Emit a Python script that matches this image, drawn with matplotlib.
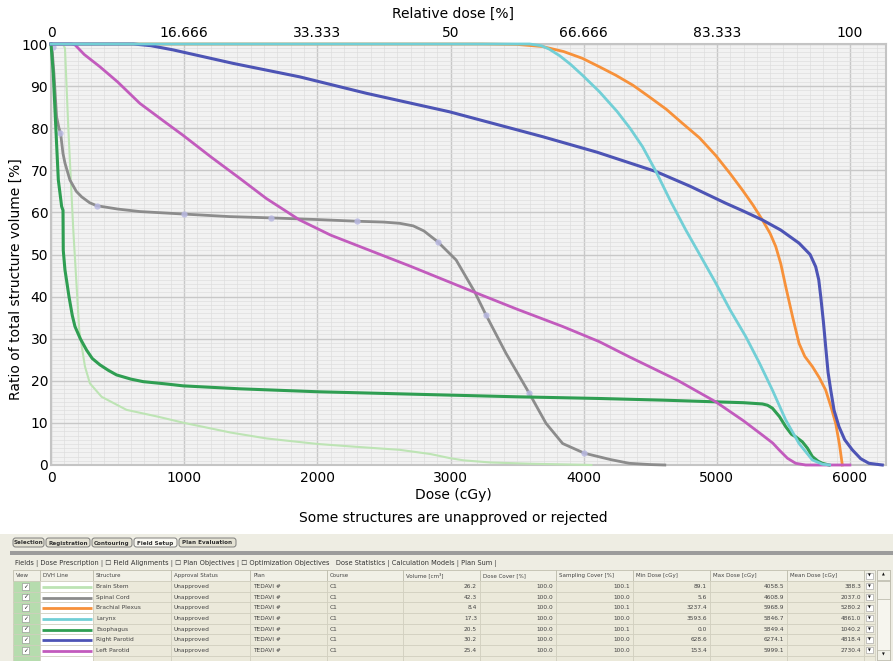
import numpy as np
import matplotlib
matplotlib.use("Agg")
import matplotlib.pyplot as plt
from matplotlib.patches import Rectangle, FancyBboxPatch
from matplotlib.ticker import MultipleLocator

plt.rcParams['font.family'] = ['DejaVu Sans']

# =========================
# DVH curves (dose cGy, volume %)
# =========================
brain_stem_dose = [0, 89, 105, 130, 167, 212, 255, 292, 380, 567, 800, 1000, 1350, 1620,
                   2000, 2300, 2620, 2850, 3000, 3100, 3300, 3600, 4000, 4058]
brain_stem_vol = [100, 100, 99, 80, 56, 32, 23.4, 19.4, 16.2, 13.1, 11.5, 10, 7.7, 6.3,
                  5.0, 4.3, 3.6, 2.6, 1.6, 1.1, 0.6, 0.3, 0.05, 0]

spinal_cord_dose = [0, 10, 22, 42, 60, 72, 90, 105, 142, 190, 230, 290, 342, 500, 667, 1000,
                    1342, 1650, 2000, 2300, 2500, 2620, 2720, 2800, 2905, 3042, 3180, 3267,
                    3417, 3592, 3717, 3842, 4005, 4200, 4342, 4500, 4609]
spinal_cord_vol = [100, 98, 93, 82.7, 80, 78.8, 74, 71.7, 67.7, 65, 63.7, 62.3, 61.6, 60.8,
                   60.2, 59.6, 59.0, 58.7, 58.3, 57.9, 57.7, 57.4, 56.8, 55.6, 53.0, 48.7,
                   41.2, 35.6, 26.5, 17.0, 9.9, 5.1, 2.8, 1.3, 0.4, 0.1, 0]
spinal_mark_dose = [15, 67, 342, 1000, 1650, 2300, 2905, 3267, 3592, 4005]
spinal_mark_vol = [99.4, 78.8, 61.6, 59.6, 58.7, 57.9, 53.0, 35.6, 17.0, 2.8]

plexus_dose = [0, 3237, 3500, 3690, 3850, 3990, 4117, 4240, 4370, 4490, 4620, 4740, 4870,
               4992, 5100, 5192, 5270, 5342, 5400, 5442, 5480, 5517, 5570, 5617, 5660,
               5717, 5770, 5817, 5860, 5892, 5920, 5942]
plexus_vol = [100, 100, 99.9, 99.4, 98.2, 96.6, 94.6, 92.6, 90.2, 87.5, 84.5, 81.2, 77.7,
              73.5, 69.2, 65.3, 61.8, 58.2, 55.0, 51.9, 47.8, 42.4, 35, 28.9, 25.8,
              23.4, 20.7, 17.8, 13.5, 9.9, 5, 0]

larynx_dose = [0, 3594, 3680, 3740, 3820, 3900, 3990, 4117, 4250, 4350, 4442, 4543, 4650,
               4767, 4880, 4992, 5100, 5217, 5320, 5417, 5517, 5617, 5717, 5792, 5847]
larynx_vol = [100, 100, 99.6, 98.8, 97.2, 95.2, 92.6, 88.7, 84.0, 79.9, 75.6, 69.7, 62.8,
              55.8, 49.5, 43.2, 36.8, 30.5, 24.2, 17.8, 10.7, 5.1, 1.2, 0.2, 0]

esophagus_dose = [0, 5, 17, 37, 55, 80, 90, 92, 105, 120, 135, 160, 180, 220, 267, 310, 367,
                  430, 492, 600, 692, 850, 992, 1417, 2000, 2992, 3500, 4117, 4600, 4992,
                  5200, 5342, 5380, 5417, 5470, 5517, 5560, 5592, 5642, 5680, 5717, 5760,
                  5792, 5842]
esophagus_vol = [100, 98, 93, 79.6, 67.7, 61.4, 60.5, 51, 46.3, 43.2, 40, 35.5, 32.9, 30,
                 27.3, 25.3, 23.8, 22.5, 21.4, 20.4, 19.8, 19.3, 18.8, 18.1, 17.4, 16.6,
                 16.2, 15.8, 15.4, 15.0, 14.8, 14.5, 14.2, 13.5, 11.5, 9.1, 7.3, 6.7, 5.5,
                 4.0, 2.0, 0.9, 0.4, 0]

r_parotid_dose = [0, 620, 750, 917, 1367, 1867, 2367, 2992, 3690, 4100, 4543, 4800, 5065,
                  5200, 5342, 5480, 5617, 5700, 5742, 5765, 5780, 5800, 5817, 5835, 5855,
                  5880, 5917, 5960, 6017, 6080, 6142, 6242]
r_parotid_vol = [100, 100, 99.6, 98.6, 95.4, 92.2, 88.3, 83.9, 78.0, 74.3, 69.7, 66.2,
                 62.2, 60.3, 58.2, 55.8, 52.7, 50.0, 47.1, 44, 40.0, 34, 28.1, 22, 17.8,
                 13, 9.1, 6, 3.6, 1.5, 0.4, 0]

l_parotid_dose = [0, 153, 180, 250, 367, 500, 667, 850, 992, 1200, 1417, 1617, 1867, 2100,
                  2367, 2700, 3167, 3500, 3842, 4117, 4342, 4700, 4992, 5200, 5342, 5420,
                  5467, 5530, 5592, 5667, 5999]
l_parotid_vol = [100, 100, 99.8, 97.5, 94.6, 91.0, 85.9, 81.6, 78.3, 73.2, 68.1, 63.3, 58.2,
                 54.6, 51.3, 47.2, 41.2, 37.0, 32.9, 29.3, 25.7, 20.2, 15.0, 10.5, 7.1,
                 5.2, 3.6, 1.6, 0.4, 0, 0]

dose_ticks = [0, 1000, 2000, 3000, 4000, 5000, 6000]
rel_labels = ["0", "16.666", "33.333", "50", "66.666", "83.333", "100"]
vol_ticks = [0, 10, 20, 30, 40, 50, 60, 70, 80, 90, 100]

# =========================
# table values
# =========================
structures = ["Brain Stem", "Spinal Cord", "Brachial Plexus", "Larynx", "Esophagus",
              "Right Parotid", "Left Parotid"]
colors = ["#bde4b4", "#8c8c8c", "#f7913a", "#72cfd6", "#2f9e52", "#4d54b5", "#c25bbd"]
approval = ["Unapproved"] * 7
plan = ["TEDAVI #"] * 7
course = ["C1"] * 7
volume = ["26.2", "42.3", "8.4", "17.3", "20.5", "30.2", "25.4"]
dose_cover = ["100.0"] * 7
sampling_cover = ["100.1", "100.0", "100.1", "100.0", "100.1", "100.0", "100.0"]
min_dose = ["89.1", "5.6", "3237.4", "3593.6", "0.0", "628.6", "153.4"]
max_dose = ["4058.5", "4608.9", "5968.9", "5846.7", "5849.4", "6274.1", "5999.1"]
mean_dose = ["388.3", "2037.0", "5280.2", "4861.0", "1040.2", "4818.4", "2730.4"]
headers = ["View", "DVH Line", "Structure", "Approval Status", "Plan", "Course",
           "Volume [cm³]", "Dose Cover [%]", "Sampling Cover [%]", "Min Dose [cGy]",
           "Max Dose [cGy]", "Mean Dose [cGy]", ""]
tabs = ["Selection", "Registration", "Contouring", "Field Setup", "Plan Evaluation"]
toolbar = ("Fields | Dose Prescription | \u2610 Field Alignments | \u2610 Plan Objectives | "
           "\u2610 Optimization Objectives   Dose Statistics | Calculation Models | Plan Sum |")

W, H = 893, 661
fig = plt.figure(figsize=(W / 100, H / 100), dpi=100)


def px_box(l, t, r, b):
    return [l / W, 1 - b / H, (r - l) / W, (b - t) / H]


# =========================
# DVH plot
# =========================
ax = fig.add_axes(px_box(51, 44, 886, 465))
ax.set_facecolor('#f2f2f2')
ax.set_xlim(0, 6270)
ax.set_ylim(0, 100)
ax.set_xticks(dose_ticks)
ax.set_yticks(vol_ticks)
ax.set_yticklabels([str(v) for v in vol_ticks])
ax.xaxis.set_minor_locator(MultipleLocator(100))
ax.yaxis.set_minor_locator(MultipleLocator(1))
ax.grid(which='major', color='#c8c8c8', linewidth=1.0)
ax.grid(which='minor', color='#dedede', linewidth=0.5)
ax.set_axisbelow(True)
ax.tick_params(which='both', length=0, labelsize=10, pad=2)
ax.tick_params(axis='x', pad=4)
for s in ax.spines.values():
    s.set_color('#c4c4c4')
    s.set_linewidth(1.5)

curves = [
    (brain_stem_dose, brain_stem_vol, colors[0], 1.5),
    (spinal_cord_dose, spinal_cord_vol, colors[1], 2.0),
    (plexus_dose, plexus_vol, colors[2], 2.0),
    (esophagus_dose, esophagus_vol, colors[4], 2.2),
    (l_parotid_dose, l_parotid_vol, colors[6], 2.0),
    (r_parotid_dose, r_parotid_vol, colors[5], 2.2),
    (larynx_dose, larynx_vol, colors[3], 2.0),
]
for i, (d, v, c, lw) in enumerate(curves):
    ax.plot(d, v, color=c, linewidth=lw, solid_joinstyle='round', clip_on=False, zorder=3 + i)

ax.plot(spinal_mark_dose, spinal_mark_vol, 'o', ms=4.5, color='#b9b9e2', mec='none',
        alpha=0.85, zorder=4.5)

ax_top = ax.twiny()
ax_top.set_xlim(ax.get_xlim())
ax_top.set_xticks(dose_ticks)
ax_top.set_xticklabels(rel_labels)
ax_top.tick_params(length=0, labelsize=10, pad=3)
for s in ax_top.spines.values():
    s.set_visible(False)

fig.text(453 / W, 1 - 14 / H, "Relative dose [%]", ha='center', va='center', fontsize=10)
fig.text(453 / W, 1 - 495 / H, "Dose (cGy)", ha='center', va='center', fontsize=10)
fig.text(453 / W, 1 - 518 / H, "Some structures are unapproved or rejected",
         ha='center', va='center', fontsize=10)
fig.text(16 / W, 1 - 279 / H, "Ratio of total structure volume [%]", rotation=90,
         ha='center', va='center', fontsize=10)

# =========================
# screenshot-like table
# =========================
ui = fig.add_axes([0, 0, 1, 1], zorder=-1)
ui.set_xlim(0, W)
ui.set_ylim(H, 0)
ui.axis('off')

ui.add_patch(Rectangle((0, 534), W, H - 534, color='#eeede3', lw=0))

# tabs
tab_edges = [12, 45, 91, 133, 178, 237]
for i, name in enumerate(tabs):
    active = name == "Field Setup"
    x0, x1 = tab_edges[i], tab_edges[i + 1]
    ui.add_patch(FancyBboxPatch((x0 + 1, 538), x1 - x0 - 2, 9,
                                boxstyle="round,pad=0,rounding_size=2.5",
                                fc='#f8f7f0' if active else '#e4e2d4',
                                ec='#6e6e6e', lw=0.6))
    ui.text((x0 + x1) / 2, 543, name, ha='center', va='center', fontsize=4.1,
            fontweight='bold', color='#333333')
ui.add_patch(Rectangle((10, 551), W - 10, 3.5, color='#9c9c9c', lw=0))
ui.text(15, 563, toolbar, ha='left', va='center', fontsize=4.75, color='#333333')

# table grid
col_edges = [13, 40, 93, 171, 250, 327, 403, 480, 556, 633, 710, 787, 864, 875]
head_top, head_bot = 570, 581
row_h = 10.67
n_rows = len(structures) + 1

ui.add_patch(Rectangle((col_edges[0], head_top), col_edges[-1] - col_edges[0],
                       H - head_top + 5, fc='#ebe9da', ec='none'))
for j in range(len(col_edges) - 1):
    x0, x1 = col_edges[j], col_edges[j + 1]
    ui.add_patch(Rectangle((x0, head_top), x1 - x0, head_bot - head_top,
                           fc='#f1f0e6', ec='#b8b6a6', lw=0.5))
    if headers[j]:
        ui.text(x0 + 3, (head_top + head_bot) / 2, headers[j], ha='left', va='center',
                fontsize=4.0, color='#444444')
# dropdown header marker
ui.add_patch(Rectangle((col_edges[12] + 2, head_top + 2.5), 7, 6, fc='white',
                       ec='#9a9a9a', lw=0.4))
ui.text(col_edges[12] + 5.5, head_top + 5.5, "\u25BC", ha='center', va='center',
        fontsize=2.6, color='#111111')

for i in range(n_rows):
    top = head_bot + i * row_h
    cy = top + row_h / 2
    for j in range(len(col_edges) - 1):
        x0, x1 = col_edges[j], col_edges[j + 1]
        fc = '#ebe9da'
        if j == 0:
            fc = '#b6dcae'
        elif j == 1:
            fc = '#ffffff'
        ui.add_patch(Rectangle((x0, top), x1 - x0, row_h, fc=fc, ec='#cfcdbd', lw=0.5))
    if i >= len(structures):
        continue
    # view checkbox
    ui.add_patch(Rectangle((22, cy - 3.2), 7, 6.4, fc='white', ec='#8a8a8a', lw=0.4))
    ui.text(25.5, cy, "\u2713", ha='center', va='center', fontsize=4.2, color='#222222')
    # dvh line
    ui.plot([col_edges[1] + 2, col_edges[2] - 1], [cy + 0.5, cy + 0.5], color=colors[i],
            lw=2.0, solid_capstyle='butt')
    left_vals = [structures[i], approval[i], plan[i], course[i]]
    for k, val in enumerate(left_vals):
        ui.text(col_edges[2 + k] + 3, cy, val, ha='left', va='center', fontsize=4.2,
                color='#444444')
    right_vals = [volume[i], dose_cover[i], sampling_cover[i], min_dose[i], max_dose[i],
                  mean_dose[i]]
    for k, val in enumerate(right_vals):
        ui.text(col_edges[7 + k] - 3, cy, val, ha='right', va='center', fontsize=4.2,
                color='#444444')
    ui.add_patch(Rectangle((col_edges[12] + 2, cy - 3), 7, 6, fc='white', ec='#9a9a9a',
                           lw=0.4))
    ui.text(col_edges[12] + 5.5, cy, "\u25BC", ha='center', va='center', fontsize=2.6,
            color='#111111')

# scrollbar
ui.add_patch(Rectangle((877, 570), 13, H - 570, fc='#f6f5ee', ec='#b5b3a4', lw=0.5))
ui.add_patch(Rectangle((877, 570), 13, 10, fc='#f2f1e8', ec='#b5b3a4', lw=0.5))
ui.text(883.5, 575, "\u25B2", ha='center', va='center', fontsize=2.6, color='#111111')
ui.add_patch(Rectangle((877, 581), 13, 18, fc='#f2f1e8', ec='#b5b3a4', lw=0.5))
ui.add_patch(Rectangle((877, 650), 13, 10, fc='#f2f1e8', ec='#b5b3a4', lw=0.5))
ui.text(883.5, 655, "\u25BC", ha='center', va='center', fontsize=2.6, color='#111111')

fig.savefig("out.png", dpi=100)
